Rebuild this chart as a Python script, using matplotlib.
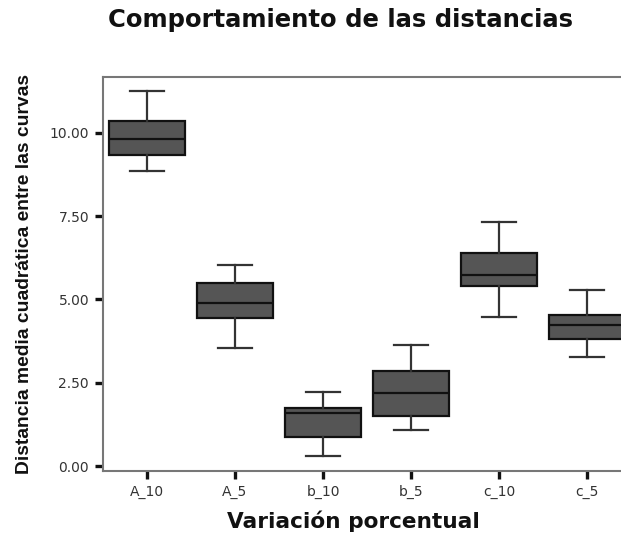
import matplotlib
matplotlib.use('Agg')
import matplotlib.pyplot as plt

# ==========================================
# Data (box statistics)
# ==========================================
categories = ['A_10', 'A_5', 'b_10', 'b_5', 'c_10', 'c_5']
whisker_low = [8.86, 3.55, 0.31, 1.09, 4.47, 3.27]
q1 = [9.35, 4.45, 0.86, 1.49, 5.39, 3.80]
medians = [9.83, 4.89, 1.58, 2.20, 5.73, 4.24]
q3 = [10.36, 5.49, 1.74, 2.84, 6.39, 4.53]
whisker_high = [11.27, 6.04, 2.23, 3.63, 7.32, 5.28]

y_ticks = [0.0, 2.5, 5.0, 7.5, 10.0]

WIDE = ['DejaVu Sans']
NARROW = ['Liberation Sans', 'DejaVu Sans']

stats = []
for i, name in enumerate(categories):
    stats.append({'label': name, 'whislo': whisker_low[i], 'q1': q1[i],
                  'med': medians[i], 'q3': q3[i], 'whishi': whisker_high[i],
                  'fliers': []})

fig = plt.figure(figsize=(6.21, 5.37), dpi=100)
# axes run past the right edge, the reference is cropped there
ax = fig.add_axes([103 / 621, 1 - 471 / 537, 528 / 621, 394 / 537])

ax.bxp(stats, positions=range(1, len(categories) + 1), widths=0.86,
       capwidths=0.38, patch_artist=True, showfliers=False,
       boxprops=dict(facecolor='#555555', edgecolor='#111111', linewidth=1.6),
       medianprops=dict(color='#111111', linewidth=1.6),
       whiskerprops=dict(color='#333333', linewidth=1.6),
       capprops=dict(color='#333333', linewidth=1.6))

ax.set_xlim(0.5, 6.5)
ax.set_ylim(-0.15, 11.68)
ax.set_yticks(y_ticks)
ax.set_yticklabels([f'{v:.2f}' for v in y_ticks])
ax.set_xticks(range(1, len(categories) + 1))
ax.set_xticklabels(categories)

for lbl in ax.get_xticklabels() + ax.get_yticklabels():
    lbl.set_family(WIDE)
    lbl.set_fontsize(10)
    lbl.set_color('#333333')

ax.tick_params(axis='both', direction='out', length=6, width=2.4, color='#111111', pad=4)

for side in ['left', 'bottom', 'top', 'right']:
    ax.spines[side].set_color('#777777')
    ax.spines[side].set_linewidth(1.5)

ax.set_ylabel('Distancia media cuadrática entre las curvas', family=NARROW,
              fontsize=13.9, fontweight='bold', color='#111111')
ax.yaxis.set_label_coords(-70 / 528, 0.5)
ax.set_xlabel('Variación porcentual', family=WIDE, fontsize=15.6,
              fontweight='bold', color='#111111')
ax.xaxis.set_label_coords((353 - 103) / 528, -39 / 394)

fig.text(341 / 621, 1 - 20 / 537, 'Comportamiento de las distancias', family=WIDE,
         fontsize=17.5, fontweight='bold', color='#111111', ha='center', va='center')

fig.savefig('out.png', dpi=100)
